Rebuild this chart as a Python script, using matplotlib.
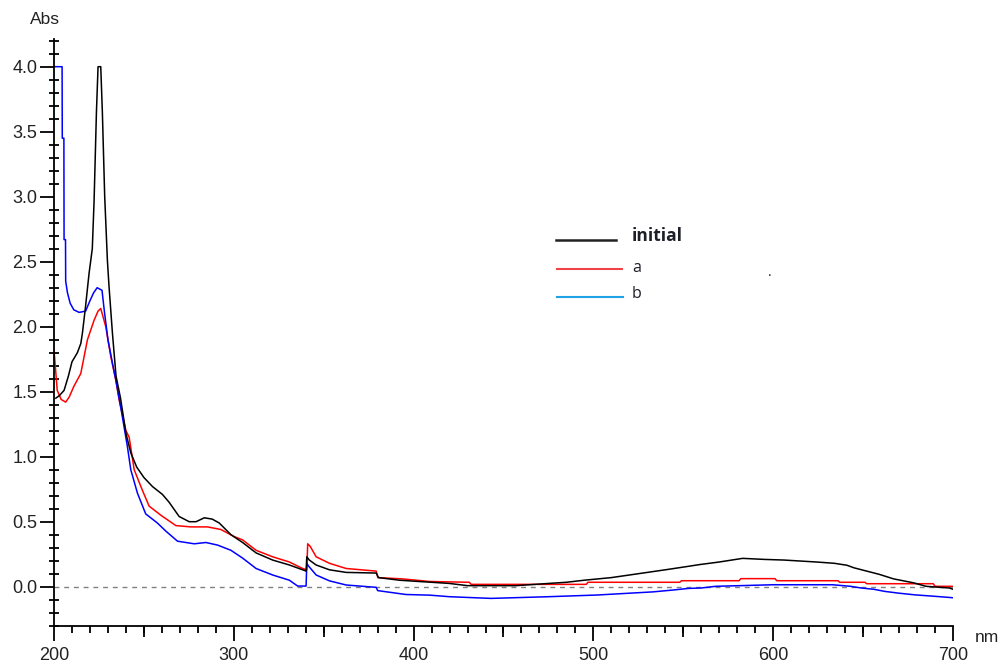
import matplotlib
matplotlib.use("Agg")
import matplotlib.pyplot as plt
from matplotlib.lines import Line2D
from matplotlib.ticker import MultipleLocator, FixedLocator, FuncFormatter
import numpy as np

# ---- data ----
wl_initial = [201, 203, 205.6, 208, 210, 213, 214.9, 215.8, 217.5, 219.5, 221.3, 222.3, 223.6,
              224.5, 226, 226.9, 228.2, 229.7, 230.6, 232.5, 234.5, 237, 240, 242.7, 246, 250,
              254.8, 260.3, 264, 269.6, 275.2, 279, 283.6, 288, 291.9, 298.4, 304.9, 312.4,
              321.6, 330.9, 338.3, 340.2, 340.6, 342, 345.8, 353.2, 362.5, 379.2, 380.5, 392,
              403, 409, 420, 430, 457, 475, 485, 495, 510, 525, 540, 552, 559, 570, 583, 595,
              606, 624, 634, 641, 645, 652, 659, 667, 678, 685, 698, 700]
abs_initial = [1.45, 1.47, 1.51, 1.62, 1.73, 1.80, 1.87, 1.95, 2.15, 2.41, 2.60, 2.97, 3.65,
               4.0, 4.0, 3.65, 3.0, 2.51, 2.31, 1.95, 1.62, 1.45, 1.18, 1.03, 0.92, 0.84,
               0.77, 0.71, 0.65, 0.54, 0.50, 0.50, 0.53, 0.52, 0.49, 0.40, 0.34, 0.26,
               0.205, 0.167, 0.13, 0.12, 0.23, 0.205, 0.167, 0.13, 0.11, 0.105, 0.07, 0.05,
               0.04, 0.035, 0.025, 0.008, 0.008, 0.025, 0.034, 0.05, 0.07, 0.10, 0.13, 0.155,
               0.17, 0.19, 0.218, 0.21, 0.205, 0.19, 0.18, 0.165, 0.145, 0.12, 0.095, 0.06,
               0.03, 0.003, -0.01, -0.02]

wl_a = [200, 201.8, 204, 206.5, 208.5, 211, 214.9, 218.6, 222.3, 224.5, 226, 228.8, 231.6,
        234.5, 236.2, 240, 241.8, 244.6, 249.2, 252.9, 259.4, 267.8, 276.1, 285.4, 292.8,
        300.3, 304.9, 312.4, 321.6, 330.9, 338.3, 340.6, 341.1, 342.5, 345.8, 353.2, 362.5,
        379.2, 380.1, 393.8, 409, 431, 432, 496, 497, 548, 549, 581, 582, 601, 602, 636,
        637, 651, 652, 689, 690, 700]
abs_a = [1.82, 1.51, 1.44, 1.42, 1.46, 1.54, 1.64, 1.90, 2.05, 2.12, 2.14, 2.0, 1.77,
         1.58, 1.44, 1.20, 1.15, 0.90, 0.74, 0.62, 0.55, 0.47, 0.46, 0.46, 0.44,
         0.385, 0.36, 0.28, 0.23, 0.19, 0.14, 0.13, 0.33, 0.31, 0.23, 0.18, 0.14,
         0.12, 0.07, 0.06, 0.04, 0.034, 0.018, 0.018, 0.034, 0.034, 0.046, 0.046, 0.062,
         0.062, 0.046, 0.046, 0.034, 0.034, 0.023, 0.023, 0.003, 0.003]

wl_b = [200, 204.5, 204.6, 205.5, 205.6, 206.4, 206.5, 207.5, 209, 211, 214, 217.6, 220,
        222, 224, 226.7, 228, 230, 232.5, 234.4, 237.5, 240.8, 242.7, 246.4, 251, 257.5,
        262, 268.7, 278, 284.5, 291, 298.4, 304.9, 312.4, 321.6, 330.9, 335.5, 340.2,
        340.6, 341.5, 345.8, 353.2, 362.5, 379.2, 380, 395.7, 409, 420, 443, 475, 502,
        520, 533, 544, 553, 560, 568, 600, 633, 643, 649, 656, 662, 670, 679, 690, 700]
abs_b = [4.0, 4.0, 3.45, 3.45, 2.67, 2.67, 2.35, 2.26, 2.18, 2.13, 2.11, 2.12, 2.20,
         2.26, 2.30, 2.28, 2.12, 1.90, 1.72, 1.59, 1.35, 1.08, 0.90, 0.72, 0.56, 0.49,
         0.43, 0.35, 0.33, 0.34, 0.32, 0.28, 0.22, 0.14, 0.09, 0.05, 0.005, 0.005,
         0.18, 0.16, 0.09, 0.045, 0.013, -0.005, -0.03, -0.06, -0.065, -0.077, -0.09,
         -0.077, -0.064, -0.05, -0.04, -0.026, -0.013, -0.01, 0.003, 0.015, 0.015, 0.003,
         -0.01, -0.02, -0.036, -0.05, -0.063, -0.074, -0.085]

series_names = ["initial", "a", "b"]
x_ticks = [200, 300, 400, 500, 600, 700]
y_ticks = [0.0, 0.5, 1.0, 1.5, 2.0, 2.5, 3.0, 3.5, 4.0]

# ---- figure ----
W, H = 1003, 664
fig = plt.figure(figsize=(W / 100, H / 100), dpi=100)
ax = fig.add_axes([54 / W, 1 - 625.7 / H, (953 - 54) / W, (625.7 - 39.4) / H])

font = ["Liberation Sans", "DejaVu Sans"]

ax.axhline(0, color="#808080", lw=1.0, ls=(0, (3.5, 3.5)), zorder=1)
ax.plot(wl_initial, abs_initial, color="black", lw=1.1, zorder=3)
ax.plot(wl_a, abs_a, color="#ff0000", lw=1.1, zorder=2)
ax.plot(wl_b, abs_b, color="#0000ff", lw=1.1, zorder=2)

ax.set_xlim(200, 700)
ax.set_ylim(-0.3, 4.21)

for s in ["top", "right"]:
    ax.spines[s].set_visible(False)
for s in ["left", "bottom"]:
    ax.spines[s].set_linewidth(1.3)
    ax.spines[s].set_color("black")

ax.xaxis.set_major_locator(FixedLocator(x_ticks))
ax.xaxis.set_minor_locator(MultipleLocator(10))
ax.yaxis.set_major_locator(FixedLocator(y_ticks))
ax.yaxis.set_minor_locator(MultipleLocator(0.1))
ax.yaxis.set_major_formatter(FuncFormatter(lambda v, p: f"{v:.1f}"))

ax.tick_params(axis="x", which="major", direction="out", length=10.5, width=1.3,
               pad=5, labelsize=13)
ax.tick_params(axis="x", which="minor", direction="out", length=5, width=1.3)
ax.tick_params(axis="y", which="major", direction="out", length=10, width=1.3,
               pad=2, labelsize=13)
ax.tick_params(axis="y", which="minor", direction="inout", length=6.5, width=1.3)
for lab in ax.get_xticklabels() + ax.get_yticklabels():
    lab.set_family(font)
    lab.set_color("#222222")

# medium ticks at the 50s
sec = ax.secondary_xaxis("bottom")
sec.xaxis.set_major_locator(FixedLocator([250, 350, 450, 550, 650]))
sec.tick_params(axis="x", direction="out", length=8, width=1.3, labelbottom=False)
sec.spines["bottom"].set_visible(False)

# axis labels
fig.text(30 / W, 1 - 20 / H, "Abs", fontsize=12.5, family=font, color="#222222",
         ha="left", va="center")
fig.text(975 / W, 1 - 637 / H, "nm", fontsize=12.5, family=font, color="#222222",
         ha="left", va="center")

# legend (drawn manually, like the reference)
leg_font = ["Open Sans", "DejaVu Sans"]
fig.add_artist(Line2D([556 / W, 616 / W], [1 - 240.5 / H] * 2, color="#222222", lw=1.8,
                      transform=fig.transFigure))
fig.add_artist(Line2D([557 / W, 622 / W], [1 - 269 / H] * 2, color="#ee4449", lw=1.5,
                      transform=fig.transFigure))
fig.add_artist(Line2D([557 / W, 623 / W], [1 - 297 / H] * 2, color="#1fa3e6", lw=1.5,
                      transform=fig.transFigure))
fig.text(632 / W, 1 - 236 / H, series_names[0], fontsize=12.5, fontweight="bold",
         family=leg_font, color="#1e1e28", ha="left", va="center")
fig.text(632 / W, 1 - 268 / H, series_names[1], fontsize=11.5, family=leg_font,
         color="#1e1e28", ha="left", va="center")
fig.text(632 / W, 1 - 294 / H, series_names[2], fontsize=11.5, family=leg_font,
         color="#1e1e28", ha="left", va="center")
fig.text(770 / W, 1 - 273 / H, ".", fontsize=10, family=leg_font, color="#1e1e28",
         ha="center", va="center")

fig.savefig("out.png", dpi=100, facecolor="white")
